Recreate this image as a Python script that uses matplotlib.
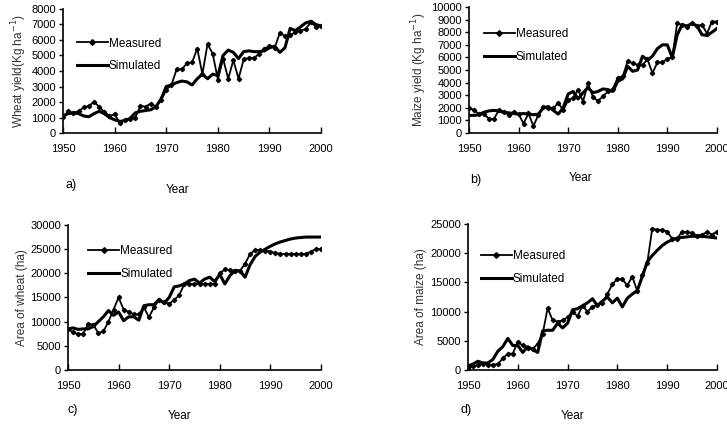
import matplotlib.pyplot as plt
import numpy as np

plt.rcParams['font.family'] = ['Liberation Sans', 'DejaVu Sans']

years = np.arange(1950, 2001)

# a) wheat yield
wy_meas = [1050, 1400, 1300, 1400, 1650, 1750, 2000, 1700, 1350, 1100,
           1200, 650, 850, 900, 1000, 1750, 1700, 1900, 1700, 2100,
           2800, 3100, 4100, 4100, 4500, 4550, 5450, 3800, 5750, 5100,
           3450, 4800, 3500, 4700, 3500, 4750, 4850, 4850, 5100, 5450,
           5600, 5500, 6450, 6250, 6300, 6500, 6600, 6700, 7150, 6850, 6900]
wy_sim = [1100, 1250, 1300, 1250, 1100, 1050, 1250, 1400, 1250, 1000,
          850, 750, 800, 950, 1300, 1400, 1450, 1500, 1700, 2200,
          3000, 3100, 3250, 3350, 3300, 3100, 3500, 3800, 3500, 3800,
          3700, 5000, 5350, 5200, 4800, 5250, 5300, 5250, 5250, 5300,
          5500, 5600, 5200, 5500, 6750, 6600, 6850, 7100, 7200, 7000, 6900]

# b) maize yield
my_meas = [1950, 1850, 1500, 1500, 1150, 1100, 1800, 1700, 1450, 1650,
           1500, 750, 1550, 550, 1450, 2100, 2000, 1950, 2400, 1800,
           2600, 2800, 3450, 2500, 3950, 2850, 2550, 2900, 3300, 3500,
           4400, 4500, 5700, 5550, 5400, 5400, 5850, 4750, 5600, 5600,
           5900, 6000, 8750, 8550, 8400, 8700, 8500, 8600, 7900, 8850, 8850]
my_sim = [1400, 1400, 1450, 1650, 1750, 1800, 1750, 1650, 1600, 1550,
          1500, 1550, 1500, 1450, 1500, 2000, 2100, 1800, 1500, 2000,
          3100, 3300, 2700, 3200, 3600, 3200, 3300, 3500, 3450, 3300,
          4100, 4300, 5300, 4900, 5000, 6100, 5800, 6100, 6700, 7000,
          7000, 6000, 7800, 8600, 8500, 8700, 8500, 7800, 7750, 8000, 8300]

# c) area of wheat
wa_meas = [8500, 7800, 7400, 7500, 9500, 9400, 7600, 8000, 10000, 12500,
           15000, 12500, 12000, 11500, 11500, 13000, 10900, 13000, 14500, 14000,
           13700, 14500, 15500, 17800, 17800, 17800, 17800, 17800, 17800, 17800,
           20000, 20800, 20700, 20500, 20500, 22000, 24000, 24800, 24800, 24700,
           24500, 24200, 24000, 24000, 24000, 24000, 24000, 24000, 24500, 25000, 25000]
wa_sim = [8500, 8700, 8400, 8500, 8500, 9000, 10000, 11000, 12300, 11300,
          12000, 10200, 11000, 11000, 10300, 13300, 13500, 13500, 14600, 13800,
          15000, 17200, 17400, 17800, 18500, 18800, 18000, 18800, 19200, 18300,
          19800, 17800, 19500, 20600, 20500, 19200, 21800, 23500, 24400, 25000,
          25600, 26100, 26500, 26800, 27100, 27300, 27400, 27500, 27500, 27500, 27500]

# d) area of maize
ma_meas = [400, 600, 800, 1100, 900, 900, 1000, 2000, 2800, 2800,
           4800, 4200, 3800, 3600, 4500, 6200, 10600, 8500, 8300, 8500,
           9000, 10000, 9200, 11000, 10000, 10800, 11200, 11500, 13000, 14700,
           15600, 15500, 14500, 16000, 13500, 16300, 18300, 24200, 24000, 24000,
           23700, 22500, 22500, 23700, 23600, 23500, 23000, 23200, 23600, 23200, 23700]
ma_sim = [700, 1000, 1500, 1200, 1200, 1800, 3200, 4000, 5400, 4200,
          4200, 3000, 4000, 3500, 3000, 6700, 6800, 6800, 8000, 7200,
          8000, 10300, 10500, 11000, 11500, 12200, 11000, 11800, 12500, 11500,
          12300, 10800, 12300, 13000, 13600, 16000, 18500, 19600, 20500, 21300,
          21900, 22300, 22600, 22700, 22800, 22900, 22900, 22900, 22800, 22700, 22600]

W, H = 727, 424

# rect, measured, simulated, ymax, ystep, ylabel, tag, legend anchor, tag px, "Year" px
panels = [
    ([0.0867, 0.6863, 0.355, 0.2925], wy_meas, wy_sim, 8000, 1000,
     'Wheat yield(Kg ha$^{-1}$)', 'a)', (0.054, 0.77), (65, 185), (178, 190)),
    ([0.6451, 0.6863, 0.341, 0.297], my_meas, my_sim, 10000, 1000,
     'Maize yield (Kg ha$^{-1}$)', 'b)', (0.06, 0.83), (470, 180), (581, 178)),
    ([0.0935, 0.1274, 0.348, 0.342], wa_meas, wa_sim, 30000, 5000,
     'Area of wheat (ha)', 'c)', (0.08, 0.86), (67, 410), (180, 416)),
    ([0.6437, 0.1274, 0.3425, 0.3443], ma_meas, ma_sim, 25000, 5000,
     'Area of maize (ha)', 'd)', (0.052, 0.82), (461, 410), (573, 416)),
]

fig = plt.figure(figsize=(7.27, 4.24), dpi=100)

for rect, meas, sim, ymax, ystep, ylab, tag, legpos, tagpx, yearpx in panels:
    ax = fig.add_axes(rect)
    ax.plot(years, meas, color='black', lw=1.3, marker='D', markersize=2.2, label='Measured')
    ax.plot(years, sim, color='black', lw=2.2, label='Simulated')
    ax.set_xlim(1950, 2000)
    ax.set_ylim(0, ymax)
    ax.set_xticks(range(1950, 2001, 10))
    ax.set_yticks(range(0, ymax + 1, ystep))
    for s in ['top', 'right']:
        ax.spines[s].set_visible(False)
    for s in ['left', 'bottom']:
        ax.spines[s].set_linewidth(1.2)
    ax.tick_params(axis='x', direction='in', length=4, width=1, labelsize=8, pad=8)
    ax.tick_params(axis='y', direction='out', length=3, width=1, labelsize=8, pad=2)
    ax.set_ylabel(ylab, fontsize=8.5, color='#333333', labelpad=2)
    fig.text(tagpx[0] / W, 1 - tagpx[1] / H, tag, fontsize=9, va='center', ha='left')
    fig.text(yearpx[0] / W, 1 - yearpx[1] / H, 'Year', fontsize=8.5, va='center', ha='center')
    ax.legend(loc='upper left', bbox_to_anchor=legpos, frameon=False, fontsize=8.5,
              handlelength=2.6, handletextpad=0.1, labelspacing=0.9,
              borderpad=0, borderaxespad=0, markerscale=1.3)

plt.savefig('out.png', dpi=100)
